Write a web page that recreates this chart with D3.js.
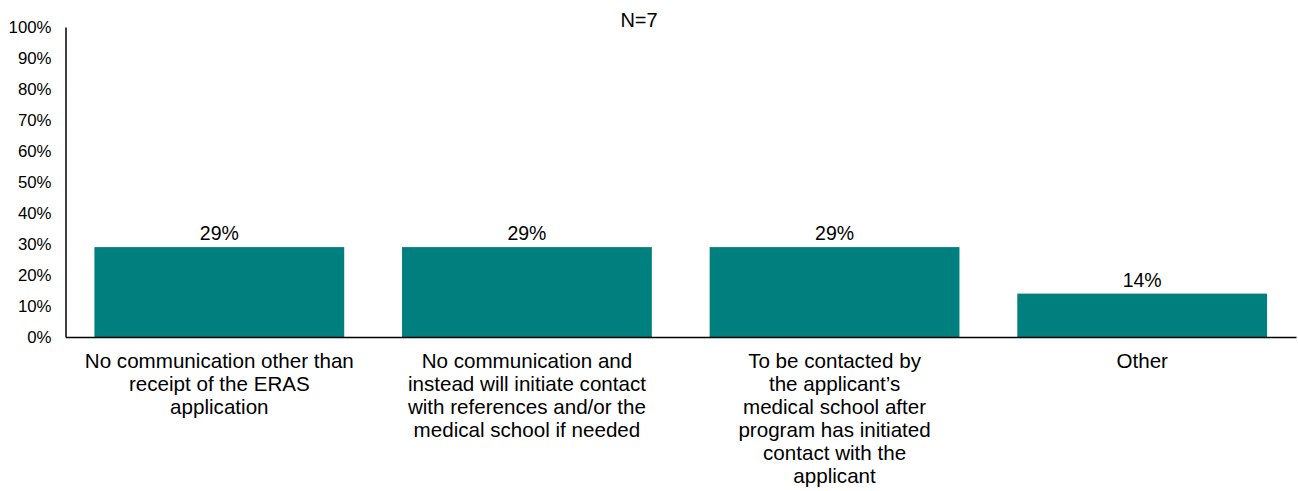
<!DOCTYPE html>
<html>
<head>
<meta charset="utf-8">
<script src="https://cdn.jsdelivr.net/npm/d3@7"></script>
<style>
	body { margin: 0; background: #fff; }
	text { font-family: "Liberation Sans", Arial, sans-serif; fill: #000; }
</style>
</head>
<body>
<svg id="viz"></svg>
<script>
/* data */
var categories = [
	["No communication other than", "receipt of the ERAS", "application"],
	["No communication and", "instead will initiate contact", "with references and/or the", "medical school if needed"],
	["To be contacted by", "the applicant\u2019s", "medical school after", "program has initiated", "contact with the", "applicant"],
	["Other"]
];
var values = [0.29, 0.29, 0.29, 0.14];
var barLabels = ["29%", "29%", "29%", "14%"];
var yTicks = [0, 0.1, 0.2, 0.3, 0.4, 0.5, 0.6, 0.7, 0.8, 0.9, 1.0];
var title = "N=7";

/* create svg */
var margin = { top: 27, right: 2, bottom: 154, left: 65.5 },
	width = 1298 - margin.left - margin.right,
	height = 491 - margin.top - margin.bottom;

var svg = d3.select('#viz')
		.attr('width', 1298)
		.attr('height', 491);
var g = svg.append('g')
		.attr('transform', 'translate(' + margin.left + ',' + margin.top + ')');

var x = d3.scaleBand()
	.domain(d3.range(categories.length))
	.range([0, width])
	.paddingInner(0.188)
	.paddingOuter(0.094);

var y = d3.scaleLinear()
	.domain([0, 1])
	.range([height, 0]);

// bars
g.selectAll(".bar")
	.data(values)
	.enter().append("rect")
	.attr("class", "bar")
	.attr("x", function(d, i){ return x(i); })
	.attr("width", x.bandwidth())
	.attr("y", function(d){ return y(d); })
	.attr("height", function(d){ return y(0) - y(d); })
	.attr("fill", "#007f7f");

// value labels
g.selectAll(".val")
	.data(values)
	.enter().append("text")
	.attr("class", "val")
	.attr("x", function(d, i){ return x(i) + x.bandwidth() / 2; })
	.attr("y", function(d){ return y(d) - 7; })
	.attr("text-anchor", "middle")
	.style("font-size", "19.5px")
	.text(function(d, i){ return barLabels[i]; });

// y axis
var yAxis = d3.axisLeft(y)
	.tickValues(yTicks)
	.tickSize(0)
	.tickPadding(14)
	.tickFormat(d3.format(".0%"));

var yG = g.append("g").attr("class", "y_axis").call(yAxis);
yG.select(".domain").attr("stroke", "#000").attr("stroke-width", 1.5);
yG.selectAll("text").style("font-size", "16.8px");

// x axis
var xAxis = d3.axisBottom(x).tickSize(0).tickFormat("");
var xG = g.append("g")
	.attr("transform", "translate(0," + height + ")")
	.call(xAxis);
xG.select(".domain").attr("stroke", "#000").attr("stroke-width", 1.5);

// category labels
var cat = g.selectAll(".cat")
	.data(categories)
	.enter().append("text")
	.attr("class", "cat")
	.attr("text-anchor", "middle")
	.style("font-size", "20.6px")
	.attr("transform", function(d, i){
		return "translate(" + (x(i) + x.bandwidth() / 2) + "," + (height + 30.5) + ")";
	});

cat.selectAll("tspan")
	.data(function(d){ return d; })
	.enter().append("tspan")
	.attr("x", 0)
	.attr("y", function(d, i){ return i * 23; })
	.text(function(d){ return d; });

// title
svg.append("text")
	.attr("x", 639)
	.attr("y", 26.5)
	.attr("text-anchor", "middle")
	.style("font-size", "20px")
	.text(title);
</script>
</body>
</html>
